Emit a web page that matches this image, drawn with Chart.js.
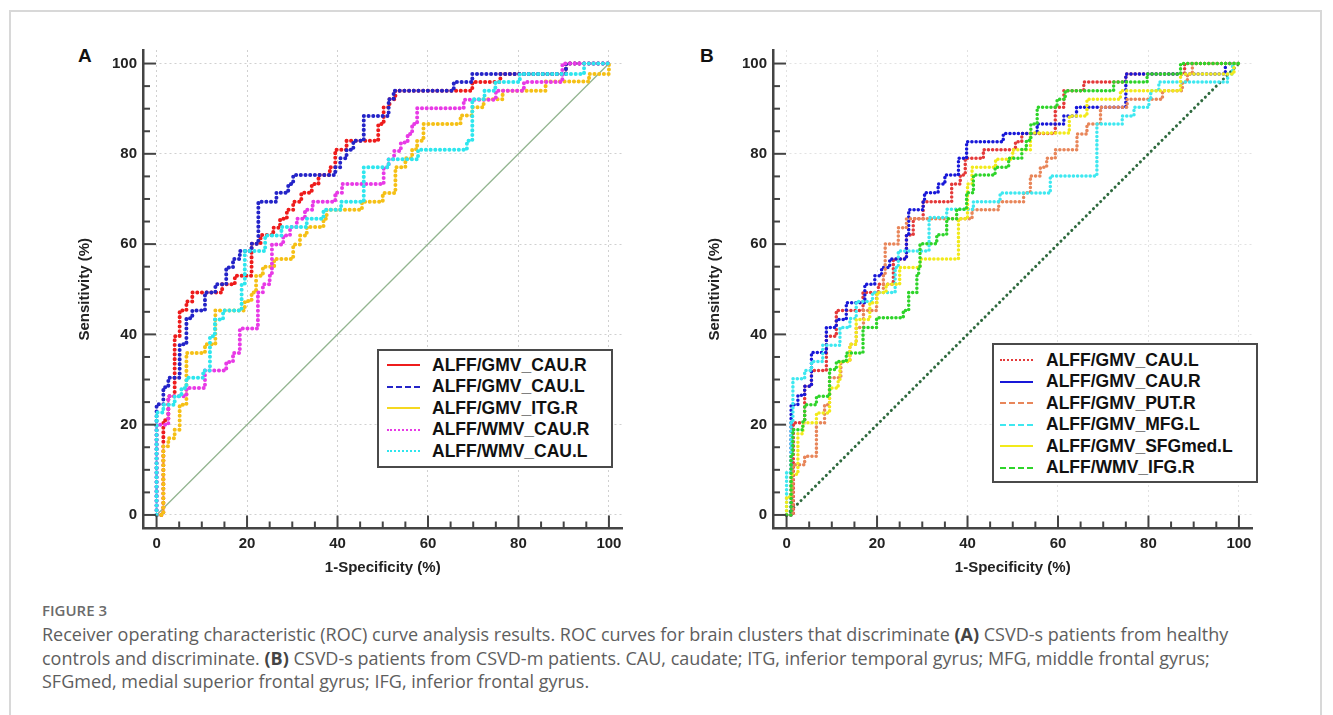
<!DOCTYPE html>
<html>
<head>
<meta charset="utf-8">
<script src="https://cdn.jsdelivr.net/npm/chart.js@4.4.1/dist/chart.umd.min.js"></script>
<style>
html, body { margin: 0; padding: 0; background: #fff; }
body { width: 1333px; height: 715px; position: relative; overflow: hidden; font-family: "Liberation Sans", Arial, sans-serif; }
.frame { position: absolute; left: 9px; top: 10px; width: 1313px; height: 740px; border: 2px solid #d8d8d8; box-sizing: border-box; }
.panel { position: absolute; top: 35px; }
.letter { position: absolute; top: 46px; font: bold 19px/19px "Liberation Sans", Arial, sans-serif; color: #111; }
.legend { position: absolute; border: 2px solid #4a4a4a; box-sizing: border-box; background: #fff; }
.legend .row { position: absolute; height: 20px; display: flex; align-items: center; }
.legend .sample { width: 33px; height: 0; border-top-width: 2px; }
.legend .txt { font: bold 17.5px "Liberation Sans", Arial, sans-serif; color: #111; white-space: nowrap; }
.cap-title { position: absolute; left: 42px; top: 600px; font: 600 15px "Open Sans", sans-serif; color: #6b6b6b; }
.cap { position: absolute; left: 42px; top: 623px; font: 18px/23.5px "Open Sans", sans-serif; color: #5e5e5e; white-space: nowrap; }
.cap b { font-weight: 700; color: #444; }
</style>
</head>
<body>
<div class="frame"></div>

<div class="letter" style="left:78px">A</div>
<div class="letter" style="left:700px">B</div>

<canvas id="chartA" class="panel" style="left:71px" width="560" height="557"></canvas>
<canvas id="chartB" class="panel" style="left:701px" width="560" height="557"></canvas>

<div id="legendA" class="legend" style="left:377px; top:349px; width:236px; height:119px;"></div>
<div id="legendB" class="legend" style="left:992px; top:343px; width:266px; height:140px;"></div>

<div class="cap-title">FIGURE 3</div>
<div class="cap">Receiver operating characteristic (ROC) curve analysis results. ROC curves for brain clusters that discriminate <b>(A)</b> CSVD-s patients from healthy<br>controls and discriminate. <b>(B)</b> CSVD-s patients from CSVD-m patients. CAU, caudate; ITG, inferior temporal gyrus; MFG, middle frontal gyrus;<br>SFGmed, medial superior frontal gyrus; IFG, inferior frontal gyrus.</div>

<script>
// axis ticks (both panels)
const tickValues = [0, 20, 40, 60, 80, 100];
const minorTickValues = [0, 5, 10, 15, 20, 25, 30, 35, 40, 45, 50, 55, 60, 65, 70, 75, 80, 85, 90, 95, 100];

// reference (chance) line
const diagX = [0, 100];
const diagY = [0, 100];

// panel A : 1-specificity (x) where sensitivity steps up to y
const labelsA = ["ALFF/GMV_CAU.R", "ALFF/GMV_CAU.L", "ALFF/GMV_ITG.R", "ALFF/WMV_CAU.R", "ALFF/WMV_CAU.L"];

const aGmvCauRX = [0, 1.5, 2.6, 4.0, 5.1, 6.6, 7.9, 14.5, 17.3, 21.0, 23.0, 25.8, 27.3, 28.8, 30.2, 32.0, 34.3, 35.8, 38.3, 39.5, 42.0, 49.0, 50.2, 51.5, 52.8, 69.8, 76.0, 90.5, 100];
const aGmvCauRY = [0, 21.0, 26.3, 39.6, 45.3, 47.3, 49.3, 51.1, 53.0, 60.1, 62.0, 63.6, 65.6, 67.6, 69.4, 71.4, 73.3, 75.3, 77.0, 80.9, 82.9, 86.6, 90.3, 92.1, 94.0, 95.9, 97.7, 100, 100];

const aGmvCauLX = [0, 0, 1.5, 2.6, 5.1, 6.6, 7.9, 10.7, 13.0, 15.4, 16.9, 18.4, 21.0, 22.5, 26.5, 29.1, 30.2, 39.5, 40.6, 42.0, 43.5, 45.8, 51.3, 52.4, 65.7, 69.8, 90.5, 100];
const aGmvCauLY = [0, 24.5, 28.3, 30.4, 37.8, 43.6, 45.3, 49.3, 51.1, 54.8, 56.7, 58.5, 60.1, 69.4, 71.4, 73.3, 75.3, 77.0, 79.0, 80.9, 82.9, 88.4, 92.1, 94.0, 95.9, 97.7, 100, 100];

const aGmvItgRX = [0, 1.5, 2.6, 4.0, 5.1, 6.6, 10.7, 13.0, 19.5, 21.0, 22.0, 23.5, 26.0, 30.2, 31.7, 33.2, 36.9, 37.6, 45.4, 50.0, 52.8, 55.0, 56.5, 57.6, 59.0, 67.2, 69.8, 72.3, 76.5, 86.0, 95.6, 100];
const aGmvItgRY = [0, 15.2, 17.0, 18.9, 24.4, 35.9, 37.8, 45.3, 47.4, 49.3, 53.0, 55.0, 56.7, 59.9, 61.9, 63.8, 65.6, 67.6, 69.4, 71.3, 77.0, 79.0, 81.0, 82.9, 86.6, 88.5, 90.3, 92.1, 94.0, 96.0, 97.7, 100];

const aWmvCauRX = [0, 0, 2.6, 6.6, 10.7, 15.4, 16.9, 18.4, 22.4, 23.5, 25.0, 25.5, 28.0, 29.5, 31.0, 32.8, 34.5, 39.5, 41.0, 50.2, 51.3, 52.5, 54.0, 55.5, 56.5, 57.6, 67.9, 75.0, 81.2, 89.7, 100];
const aWmvCauRY = [0, 20.0, 26.3, 28.1, 32.0, 33.9, 35.9, 41.3, 49.3, 51.1, 53.0, 59.9, 61.9, 63.8, 65.6, 67.6, 69.4, 71.4, 73.3, 77.0, 78.8, 80.6, 82.5, 84.4, 86.6, 90.1, 92.0, 94.0, 95.9, 100, 100];

const aWmvCauLX = [0, 0, 1.5, 4.0, 5.5, 6.6, 10.3, 11.8, 12.9, 14.7, 18.8, 19.5, 24.0, 27.6, 33.2, 36.9, 40.8, 45.8, 51.3, 57.8, 68.6, 69.8, 72.5, 74.9, 80.3, 94.5, 100];
const aWmvCauLY = [0, 22.7, 24.4, 26.3, 28.1, 30.4, 32.0, 39.6, 43.3, 45.3, 51.0, 58.5, 61.9, 63.8, 65.6, 67.6, 69.4, 77.0, 78.8, 80.9, 82.9, 92.1, 94.0, 95.9, 97.7, 100, 100];

// panel B
const labelsB = ["ALFF/GMV_CAU.L", "ALFF/GMV_CAU.R", "ALFF/GMV_PUT.R", "ALFF/GMV_MFG.L", "ALFF/GMV_SFGmed.L", "ALFF/WMV_IFG.R"];

const bGmvCauLX = [0, 1.5, 4.0, 5.5, 8.8, 11.0, 16.9, 20.3, 23.6, 26.5, 28.0, 30.2, 36.5, 38.4, 39.5, 43.5, 50.6, 52.0, 59.4, 61.3, 65.7, 75.0, 88.0, 100];
const bGmvCauLY = [0, 20.4, 28.5, 32.0, 39.6, 45.3, 49.3, 51.1, 56.7, 62.0, 65.6, 69.4, 73.3, 75.3, 79.0, 80.9, 82.7, 84.5, 90.3, 94.0, 95.9, 97.7, 100, 100];

const bGmvCauRX = [0, 1.0, 2.5, 4.0, 5.5, 8.8, 11.0, 13.2, 17.3, 19.5, 21.0, 22.8, 26.5, 27.0, 30.2, 30.5, 33.5, 35.0, 38.0, 39.8, 47.9, 55.4, 61.3, 64.1, 75.0, 97.0, 100];
const bGmvCauRY = [0, 24.4, 26.5, 28.5, 36.0, 41.5, 43.3, 47.0, 51.1, 53.0, 54.8, 56.7, 62.0, 67.6, 69.4, 71.4, 73.3, 75.3, 79.0, 82.7, 84.5, 86.6, 88.4, 90.3, 97.7, 100, 100];

const bGmvPutRX = [0, 1.4, 4.0, 6.6, 8.4, 9.5, 12.0, 14.0, 15.4, 17.0, 19.9, 21.4, 21.8, 24.7, 26.5, 41.0, 46.9, 52.4, 53.9, 56.1, 57.5, 59.4, 64.2, 66.4, 69.4, 75.3, 83.1, 87.5, 88.6, 89.7, 100];
const bGmvPutRY = [0, 11.1, 13.0, 20.4, 24.4, 30.4, 34.0, 37.8, 41.5, 45.3, 49.3, 53.0, 60.0, 63.6, 65.6, 67.6, 69.4, 71.4, 75.1, 77.0, 79.0, 80.9, 84.4, 86.6, 90.3, 92.1, 94.0, 95.9, 97.7, 100, 100];

const bGmvMfgLX = [0, 0, 1.0, 1.4, 4.0, 5.5, 8.0, 11.8, 14.0, 15.4, 19.0, 24.0, 24.7, 31.5, 35.4, 41.3, 47.2, 58.3, 68.6, 74.2, 76.8, 80.1, 80.5, 82.3, 97.5, 98.6, 100];
const bGmvMfgLY = [0, 9.4, 20.4, 30.2, 32.0, 34.0, 37.6, 41.5, 43.5, 47.3, 49.3, 54.8, 58.5, 65.9, 67.7, 69.4, 71.3, 75.1, 86.6, 88.4, 90.3, 92.1, 94.0, 95.9, 97.7, 100, 100];

const bGmvSfgX = [0, 0, 1.0, 2.5, 3.6, 6.6, 9.5, 11.4, 11.8, 14.0, 15.4, 18.4, 20.0, 22.0, 25.0, 29.5, 38.0, 40.0, 41.0, 46.2, 50.0, 53.9, 62.5, 66.4, 73.8, 87.1, 98.9, 100];
const bGmvSfgY = [0, 4.0, 9.0, 18.0, 20.4, 22.6, 28.1, 30.0, 34.0, 37.8, 43.3, 47.0, 49.3, 51.1, 54.8, 56.7, 65.6, 73.3, 77.0, 78.8, 80.9, 84.6, 88.4, 92.1, 94.0, 97.7, 100, 100];

const bWmvIfgRX = [0, 1.0, 1.4, 3.6, 4.0, 6.6, 9.5, 11.0, 13.2, 16.9, 19.9, 25.8, 27.0, 28.8, 29.2, 29.5, 33.2, 35.4, 37.6, 39.8, 41.3, 46.1, 49.1, 52.0, 53.0, 54.0, 55.4, 59.8, 61.6, 72.3, 79.7, 87.1, 100];
const bWmvIfgRY = [0, 13.0, 18.9, 20.7, 24.4, 26.3, 32.2, 34.0, 35.9, 41.5, 43.7, 45.3, 49.3, 53.0, 54.8, 60.1, 62.1, 65.6, 67.7, 71.4, 75.3, 77.0, 79.0, 81.0, 83.0, 86.6, 90.3, 92.1, 94.0, 95.9, 97.7, 100, 100];

function pts(xs, ys) {
    return xs.map((x, i) => ({ x: x, y: ys[i] }));
}

// beaded look of the original curves
function curve(xs, ys, color, order, width) {
    return {
        data: pts(xs, ys),
        borderColor: color,
        borderWidth: width,
        borderDash: [0.1, width + 0.6],
        borderCapStyle: "round",
        borderJoinStyle: "round",
        stepped: true,
        pointRadius: 0,
        order: order
    };
}

const innerTicks = {
    id: "innerTicks",
    afterDatasetsDraw(chart) {
        const { ctx, scales: { x, y } } = chart;
        ctx.save();
        ctx.strokeStyle = "#444";
        ctx.lineWidth = 2;
        minorTickValues.forEach(v => {
            const len = tickValues.includes(v) ? 13 : 7;
            const px = x.getPixelForValue(v);
            ctx.beginPath();
            ctx.moveTo(px, y.bottom);
            ctx.lineTo(px, y.bottom - len);
            ctx.stroke();
            const py = y.getPixelForValue(v);
            ctx.beginPath();
            ctx.moveTo(x.left, py);
            ctx.lineTo(x.left + len, py);
            ctx.stroke();
        });
        ctx.restore();
    }
};

const tickFont = { family: "Liberation Sans", size: 15, weight: "bold" };

function makeChart(id, datasets, gridColor) {
    return new Chart(document.getElementById(id), {
        type: "line",
        data: { datasets: datasets },
        options: {
            responsive: false,
            animation: false,
            devicePixelRatio: 1,
            layout: { padding: { top: 9.5, right: 8.5, left: 0, bottom: 0 } },
            plugins: { legend: { display: false }, tooltip: { enabled: false } },
            scales: {
                x: {
                    type: "linear", min: -3, max: 103,
                    afterBuildTicks: s => { s.ticks = tickValues.map(v => ({ value: v })); },
                    afterFit: s => { s.height = 63.5; },
                    grid: { color: gridColor, lineWidth: 1, drawTicks: false },
                    border: { display: true, color: "#444", width: 2.5, dash: [2, 3] },
                    ticks: { padding: 6, color: "#222", font: tickFont, maxRotation: 0, autoSkip: false },
                    title: { display: true, text: "1-Specificity (%)", color: "#222", font: tickFont, padding: { top: 0, bottom: 15 } }
                },
                y: {
                    type: "linear", min: -3, max: 103,
                    afterBuildTicks: s => { s.ticks = tickValues.map(v => ({ value: v })); },
                    afterFit: s => { s.width = 72; },
                    grid: { color: gridColor, lineWidth: 1, drawTicks: false },
                    border: { display: true, color: "#444", width: 2.5, dash: [2, 3] },
                    ticks: { padding: 6, color: "#222", font: tickFont, autoSkip: false },
                    title: { display: true, text: "Sensitivity (%)", color: "#222", font: tickFont, padding: { top: 5, bottom: 0 } }
                }
            }
        },
        plugins: [innerTicks]
    });
}

makeChart("chartA", [
    { data: pts(diagX, diagY), borderColor: "#93b590", borderWidth: 1.3, pointRadius: 0, order: 10 },
    curve(aGmvCauRX, aGmvCauRY, "#ee1c1c", 5, 4),
    curve(aGmvCauLX, aGmvCauLY, "#2424c8", 4, 4),
    curve(aGmvItgRX, aGmvItgRY, "#f5c016", 3, 4),
    curve(aWmvCauRX, aWmvCauRY, "#e83ae6", 2, 4),
    curve(aWmvCauLX, aWmvCauLY, "#2ee6ee", 1, 4)
], "#d0d0d0");

makeChart("chartB", [
    { data: pts(diagX, diagY), borderColor: "#2f6a3e", borderWidth: 3, borderDash: [0.1, 5], borderCapStyle: "round", pointRadius: 0, order: 10 },
    curve(bGmvCauLX, bGmvCauLY, "#e43a3a", 6, 3.5),
    curve(bGmvCauRX, bGmvCauRY, "#1818d8", 5, 3.5),
    curve(bGmvPutRX, bGmvPutRY, "#e8865a", 4, 3.5),
    curve(bGmvMfgLX, bGmvMfgLY, "#3ee8f0", 3, 3.5),
    curve(bGmvSfgX, bGmvSfgY, "#f2ea1a", 2, 3.5),
    curve(bWmvIfgRX, bWmvIfgRY, "#2ed42a", 1, 3.5)
], "#e2e2e2");

// legends (boxed, inside the plot area)
const sampleA = ["2px solid #ee1c1c", "2px dashed #2424c8", "2px solid #f5d820", "2px dotted #e83ae6", "2px dotted #2ee6ee"];
const sampleB = ["2px dotted #e43a3a", "2px solid #1818d8", "2px dashed #e8865a", "2px dashed #3ee8f0", "2px solid #f2ea1a", "2px dashed #2ed42a"];

function buildLegend(id, labels, samples, firstTop, sampleLeft, gap) {
    const box = document.getElementById(id);
    labels.forEach((label, i) => {
        const row = document.createElement("div");
        row.className = "row";
        row.style.left = sampleLeft + "px";
        row.style.top = (firstTop + i * 21.5 - 10) + "px";
        const s = document.createElement("span");
        s.className = "sample";
        s.style.borderTop = samples[i];
        s.style.marginRight = gap + "px";
        const t = document.createElement("span");
        t.className = "txt";
        t.textContent = label;
        row.appendChild(s);
        row.appendChild(t);
        box.appendChild(row);
    });
}

buildLegend("legendA", labelsA, sampleA, 14, 8, 12);
buildLegend("legendB", labelsB, sampleB, 15, 6, 13);
</script>
</body>
</html>
